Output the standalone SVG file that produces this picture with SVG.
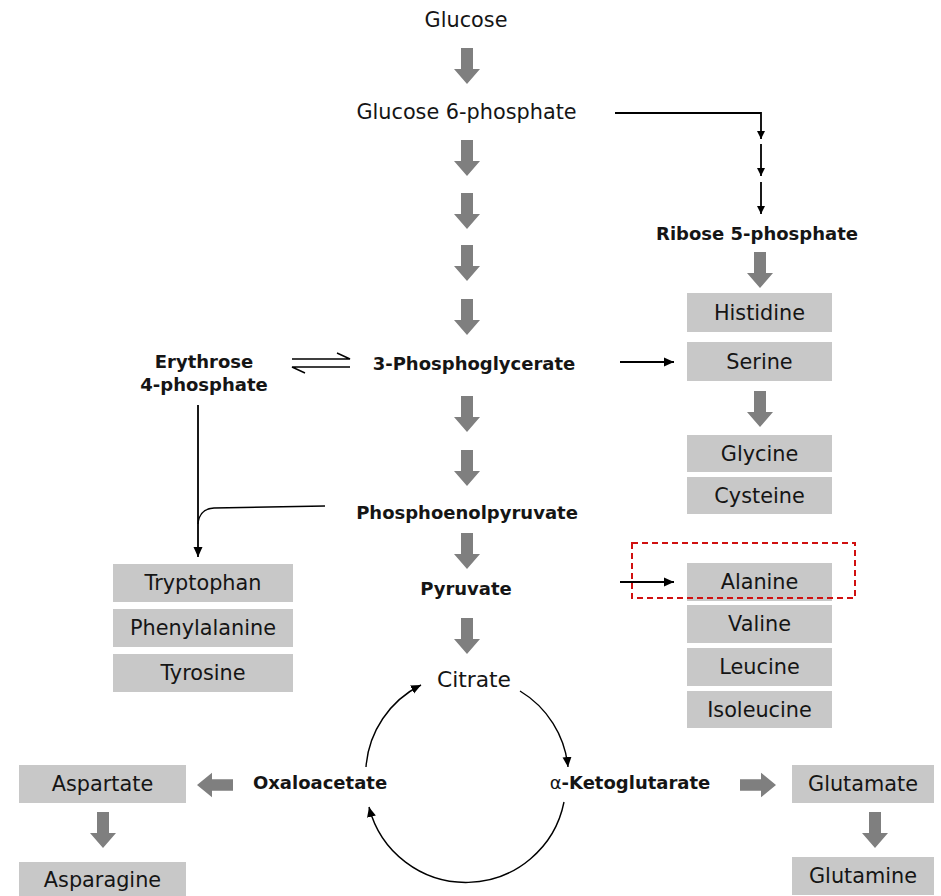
<svg xmlns="http://www.w3.org/2000/svg" width="941" height="896" viewBox="0 0 941 896">
<style>
text{font-family:"DejaVu Sans",Verdana,"Liberation Sans",sans-serif;fill:#151515;text-anchor:middle}
.r{font-size:20.8px}
.c{font-size:21.8px}
.b{font-size:18px;font-weight:bold}
.box{fill:#c8c8c8}
.ga{fill:#7f7f7f}
.ln{fill:none;stroke:#000;stroke-width:1.8}
.ln2{fill:none;stroke:#000;stroke-width:1.4}
</style>
<defs>
<path id="garrow" d="M-6,0 H6 V21 H13 L0,36 L-13,21 H-6 Z"/>
<marker id="ah" markerUnits="userSpaceOnUse" markerWidth="11" markerHeight="10" refX="10" refY="5" orient="auto">
<path d="M0,0.5 L10,5 L0,9.5 Z" fill="#000"/>
</marker>
<marker id="ahs" markerUnits="userSpaceOnUse" markerWidth="9" markerHeight="9" refX="8" refY="4" orient="auto">
<path d="M0,0 L8,4 L0,8 Z" fill="#000"/>
</marker>
</defs>
<rect width="941" height="896" fill="#fff"/>

<g id="connectors">
<use href="#garrow" class="ga" transform="translate(467,48)"/>
<use href="#garrow" class="ga" transform="translate(467,140)"/>
<use href="#garrow" class="ga" transform="translate(467,193)"/>
<use href="#garrow" class="ga" transform="translate(467,245)"/>
<use href="#garrow" class="ga" transform="translate(467,299)"/>
<use href="#garrow" class="ga" transform="translate(467,396)"/>
<use href="#garrow" class="ga" transform="translate(467,450)"/>
<use href="#garrow" class="ga" transform="translate(467,533)"/>
<use href="#garrow" class="ga" transform="translate(467,618)"/>
<use href="#garrow" class="ga" transform="translate(760,252)"/>
<use href="#garrow" class="ga" transform="translate(760,391)"/>
<use href="#garrow" class="ga" transform="translate(103,812)"/>
<use href="#garrow" class="ga" transform="translate(875,812)"/>
<use href="#garrow" class="ga" transform="translate(233,785) rotate(90) scale(0.95,1)"/>
<use href="#garrow" class="ga" transform="translate(740,785) rotate(-90) scale(0.95,1)"/>

<path class="ln" d="M615,113 H761 V139" marker-end="url(#ahs)"/>
<path class="ln" d="M761,144 V176" marker-end="url(#ahs)"/>
<path class="ln" d="M761,182 V214" marker-end="url(#ahs)"/>

<path class="ln2" d="M292,359 H350 L337,353"/>
<path class="ln2" d="M350,367 H292 L305,373"/>

<path class="ln" d="M620,362 H674" marker-end="url(#ah)"/>
<path class="ln" d="M620,582 H674" marker-end="url(#ah)"/>

<path class="ln" d="M198,405 V557" marker-end="url(#ah)"/>
<path class="ln2" d="M325,506 L214,508 Q199,509 198,524"/>

<path class="ln2" d="M366,767 A100,100 0 0 1 421,685" marker-end="url(#ah)"/>
<path class="ln2" d="M520,691 A100,100 0 0 1 568,767" marker-end="url(#ah)"/>
<path class="ln2" d="M564,802 A100,100 0 0 1 369,807" marker-end="url(#ah)"/>
</g>

<g id="glucose"><text class="r" x="466" y="27">Glucose</text></g>
<g id="g6p"><text class="r" x="466.5" y="119">Glucose 6-phosphate</text></g>
<g id="r5p"><text class="b" x="757" y="240">Ribose 5-phosphate</text></g>
<g id="e4p"><text class="b" x="204" y="368">Erythrose</text><text class="b" x="204" y="391">4-phosphate</text></g>
<g id="pg3"><text class="b" x="474" y="370">3-Phosphoglycerate</text></g>
<g id="pep"><text class="b" x="467" y="519">Phosphoenolpyruvate</text></g>
<g id="pyruvate"><text class="b" x="466" y="595">Pyruvate</text></g>
<g id="citrate"><text class="c" x="474" y="687">Citrate</text></g>
<g id="oxaloacetate"><text class="b" x="320" y="789">Oxaloacetate</text></g>
<g id="akg"><text class="b" x="630" y="789"><tspan font-weight="normal">α</tspan>-Ketoglutarate</text></g>

<g id="histidine"><rect class="box" x="687" y="293" width="145" height="39"/><text class="r" x="759.5" y="320">Histidine</text></g>
<g id="serine"><rect class="box" x="687" y="342" width="145" height="39"/><text class="r" x="759.5" y="369">Serine</text></g>
<g id="glycine"><rect class="box" x="687" y="435" width="145" height="37"/><text class="r" x="759.5" y="461">Glycine</text></g>
<g id="cysteine"><rect class="box" x="687" y="477" width="145" height="37"/><text class="r" x="759.5" y="503">Cysteine</text></g>
<g id="alanine"><rect class="box" x="687" y="563" width="145" height="38"/><text class="r" x="759.5" y="589">Alanine</text></g>
<g id="valine"><rect class="box" x="687" y="605" width="145" height="38"/><text class="r" x="759.5" y="631">Valine</text></g>
<g id="leucine"><rect class="box" x="687" y="648" width="145" height="38"/><text class="r" x="759.5" y="674">Leucine</text></g>
<g id="isoleucine"><rect class="box" x="687" y="691" width="145" height="37"/><text class="r" x="759.5" y="717">Isoleucine</text></g>
<g id="highlight"><rect x="632" y="543" width="223" height="55" fill="none" stroke="#d01010" stroke-width="2" stroke-dasharray="6,4"/></g>

<g id="tryptophan"><rect class="box" x="113" y="564" width="180" height="38"/><text class="r" x="203" y="590">Tryptophan</text></g>
<g id="phenylalanine"><rect class="box" x="113" y="609" width="180" height="38"/><text class="r" x="203" y="635">Phenylalanine</text></g>
<g id="tyrosine"><rect class="box" x="113" y="654" width="180" height="38"/><text class="r" x="203" y="680">Tyrosine</text></g>

<g id="aspartate"><rect class="box" x="19" y="765" width="167" height="38"/><text class="r" x="102.5" y="791">Aspartate</text></g>
<g id="asparagine"><rect class="box" x="19" y="862" width="167" height="38"/><text class="r" x="102.5" y="887">Asparagine</text></g>
<g id="glutamate"><rect class="box" x="792" y="765" width="142" height="38"/><text class="r" x="863" y="791">Glutamate</text></g>
<g id="glutamine"><rect class="box" x="792" y="857" width="142" height="38"/><text class="r" x="863" y="883">Glutamine</text></g>
</svg>
